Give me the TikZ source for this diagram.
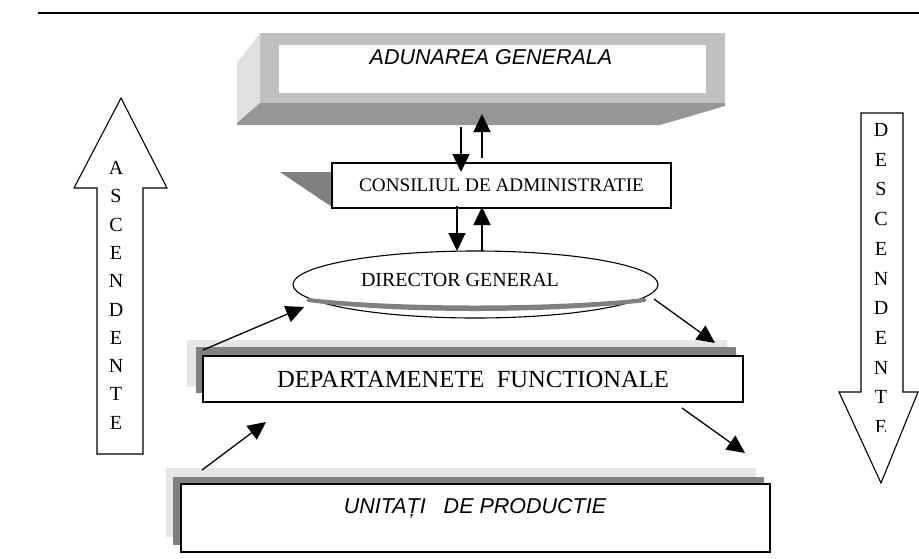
\documentclass[tikz,border=0pt]{standalone}
\usepackage{fontspec}
\setmainfont{Liberation Serif}
\newfontfamily\arialfont{Liberation Sans}
\usetikzlibrary{arrows.meta,shapes.geometric}
\definecolor{shdark}{HTML}{808080}
\definecolor{shlight}{HTML}{E6E6E6}
\definecolor{bevfront}{HTML}{C0C0C0}
\definecolor{bevbottom}{HTML}{969696}
\definecolor{bevleft}{HTML}{E0E0E0}
\begin{document}
\begin{tikzpicture}[x=1pt,y=-1pt,
  plainbox/.style={draw=black,line width=1.1pt,fill=white,inner sep=0pt},
  conn/.style={line width=1.3pt,-{Triangle[length=18pt,width=17pt]}},
  bigarrow/.style={draw=black,line width=1.1pt,fill=white,line join=miter},
  letter/.style={inner sep=0pt,font=\fontsize{20}{24}\selectfont}]
\useasboundingbox (0,0) rectangle (919,558);
% top rule
\draw[line width=1.6pt] (38,13) -- (919,13);

% ADUNAREA GENERALA (bevelled block)
\fill[bevfront] (260,33) rectangle (725,103);
\fill[bevleft] (260,33) -- (237,63) -- (237,123) -- (260,104) -- cycle;
\fill[bevbottom] (260,103) -- (725,103) -- (725,106) -- (660,125) -- (237,125) -- (237,123) -- cycle;
\node[fill=white,inner sep=0pt,minimum width=427pt,minimum height=48pt] (adun) at (492.5,69) {};
\node[font=\arialfont\itshape\fontsize{21.5}{26}\selectfont,inner sep=0pt] (adunlabel) at (491,57) {ADUNAREA GENERALA};

% CONSILIUL DE ADMINISTRATIE
\fill[shdark] (280,172) -- (332,172) -- (332,207) -- cycle;
\node[plainbox,minimum width=339pt,minimum height=45pt,font=\fontsize{19.2}{23}\selectfont] (cons) at (501.5,185.5) {CONSILIUL DE ADMINISTRATIE};

% DIRECTOR GENERAL
\node[draw=black,line width=1.1pt,fill=white,ellipse,inner sep=0pt,minimum width=365pt,minimum height=67pt] (dir) at (475.5,284.5) {};
\fill[shdark] (308,298) .. controls (400,308) and (550,308) .. (645,298)
  .. controls (647,300) .. (645,302) .. controls (550,314) and (400,314) .. (308,302)
  .. controls (306,300) .. cycle;
\node[inner sep=0pt,font=\fontsize{20}{24}\selectfont] (dirlabel) at (460,280) {DIRECTOR GENERAL};

% DEPARTAMENETE FUNCTIONALE
\fill[shlight] (187,340) rectangle (727,387);
\fill[shdark] (196,347) rectangle (736,393);
\node[plainbox,minimum width=540pt,minimum height=46pt,font=\fontsize{24.6}{29}\selectfont] (dept) at (473,379) {DEPARTAMENETE\ \ FUNCTIONALE};

% UNITATI DE PRODUCTIE
\fill[shlight] (166,468) rectangle (756,537);
\fill[shdark] (173,477) rectangle (764,545);
\node[plainbox,minimum width=589pt,minimum height=68pt] (unit) at (475.5,518) {};
\node[font=\arialfont\itshape\fontsize{21.5}{26}\selectfont,inner sep=0pt] (unitlabel) at (475,508) {UNITAȚI\ \ \ DE PRODUCTIE};

% ASCENDENTE arrow
\draw[bigarrow] (121,98) -- (167,188) -- (143,188) -- (143,454) -- (97,454) -- (97,188) -- (74,188) -- cycle;
\foreach \l [count=\i from 0] in {A,S,C,E,N,D,E,N,T,E}
  \node[letter] (asc\i) at (116,{168+28.3*\i}) {\l};

% DESCENDENTE arrow
\draw[bigarrow] (861,113) -- (903,113) -- (903,392) -- (918,392) -- (881,483) -- (839,392) -- (861,392) -- cycle;
\begin{scope}
  \clip (845,100) rectangle (915,431);
  \foreach \l [count=\i from 0] in {D,E,S,C,E,N,D,E,N,T,E}
    \node[letter] (desc\i) at (881,{130+29.7*\i}) {\l};
\end{scope}

% connector end points
\coordinate (a1-s) at (461,127); \coordinate (a1-e) at (461,172);
\coordinate (a2-s) at (482,158); \coordinate (a2-e) at (482,114);
\coordinate (a3-s) at (457,206); \coordinate (a3-e) at (457,251);
\coordinate (a4-s) at (482,251); \coordinate (a4-e) at (482,207);
\coordinate (a5-s) at (203,350); \coordinate (a5-e) at (304,307);
\coordinate (a6-s) at (654,299); \coordinate (a6-e) at (715,343);
\coordinate (a7-s) at (202,470); \coordinate (a7-e) at (266,422);
\coordinate (a8-s) at (682,408); \coordinate (a8-e) at (745,453);
\foreach \n in {1,...,8} \draw[conn] (a\n-s) -- (a\n-e);
\end{tikzpicture}
\end{document}
